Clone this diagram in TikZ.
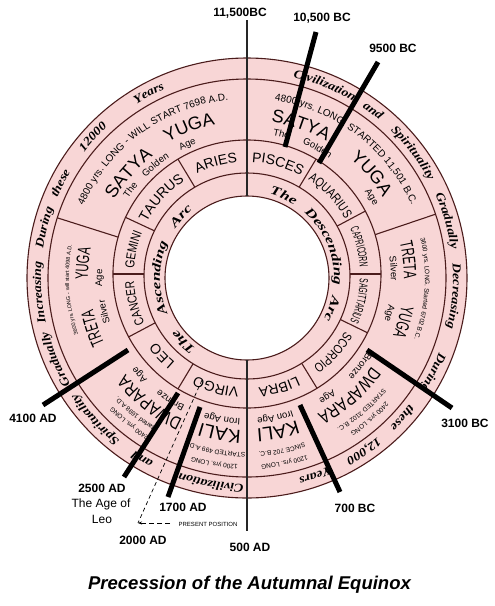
\documentclass[tikz,border=0pt]{standalone}
\usepackage{fontspec}
\usetikzlibrary{decorations.text,arrows.meta}
\setmainfont{Liberation Sans}
\newfontfamily\handR{Liberation Sans}
\newfontfamily\handN{Liberation Sans}[FakeStretch=0.8]
\newfontfamily\handT{Liberation Sans}[FakeStretch=0.62]
\newfontfamily\handX{Liberation Sans}[FakeStretch=0.55]
\newfontfamily\scrO{Liberation Serif}[FakeStretch=1.15]
\newfontfamily\scrA{Liberation Serif}[FakeStretch=1.35]
\definecolor{ringpink}{RGB}{248,214,214}
\definecolor{ringbrown}{RGB}{75,28,28}
\newcommand\rgO{\scrO\bfseries\itshape\fontsize{12}{12}\selectfont}
\newcommand\rgA{\scrA\bfseries\itshape\fontsize{12.5}{12.5}\selectfont}
\newcommand\rgZ{\handR\fontsize{14}{14}\selectfont}
\newcommand\rgZn{\handN\fontsize{13}{13}\selectfont}
\newcommand\rgZt{\handX\fontsize{12}{12}\selectfont}
\newcommand\rgB{\handR\fontsize{18}{18}\selectfont}
\newcommand\rgBn{\handN\fontsize{18}{18}\selectfont}
\newcommand\rgBt{\handT\fontsize{18}{18}\selectfont}
\newcommand\rgBk{\handR\fontsize{19}{19}\selectfont}
\newcommand\rgL{\handR\fontsize{10}{10}\selectfont}
\newcommand\rgs{\handR\fontsize{9.5}{9.5}\selectfont}
\newcommand\rgK{\handR\fontsize{6.5}{6.5}\selectfont}
\newcommand\rgT{\handR\fontsize{5.5}{5.5}\selectfont}
\newcommand\atext[4]{\path[shift={(247,-278)},decorate,decoration={text along path,text align=center,text={|#3|#4}}] ({#2+40}:#1) arc[start angle={#2+40},end angle={#2-40},radius=#1];}
\newcommand\ztext[3]{\path[shift={(247,-275)},decorate,decoration={text along path,text align=center,text={|#2|#3}}] ({#1+40}:113) arc[start angle={#1+40},end angle={#1-40},radius=113];}
\tikzset{
  ringstroke/.style={draw=ringbrown,line width=1.1pt},
  vline/.style={draw=black!85,line width=1.5pt},
  bigline/.style={draw=black,line width=5pt},
  lab/.style={font=\bfseries\fontsize{12}{12}\selectfont,inner sep=0.5pt},
  labn/.style={font=\fontsize{12}{12}\selectfont,inner sep=0.5pt},
}
\begin{document}
\begin{tikzpicture}[x=1pt,y=1pt]
\useasboundingbox (0,0) rectangle (495,-606);
\fill[white] (0,0) rectangle (495,-606);
\coordinate (C) at (247,-278);
\coordinate (Z3) at (247,-274);
\coordinate (Z4) at (247,-276);
% rings
\fill[ringpink] (C) circle[radius=220];
\begin{scope}
  \clip (C) circle[radius=199];
  \foreach \a in {162.4,18.7} \draw[ringstroke,shift={(247,-278)}] (\a:120) -- (\a:205);
\end{scope}
\fill[ringpink] (Z3) circle[radius=134];
\begin{scope}
  \clip (Z3) circle[radius=134];
  \foreach \a in {121,59,28,0,-26,-58.5,-121,-152,180,155} \draw[ringstroke,shift={(247,-274)}] (\a:92) -- (\a:140);
\end{scope}
\fill[ringpink] (Z4) circle[radius=103];
\fill[white] (C) circle[radius=82];
\draw[ringstroke] (C) circle[radius=220] (C) circle[radius=199] (Z3) circle[radius=134] (Z4) circle[radius=103] (C) circle[radius=82];

% outer ring text
\atext{206}{68}{\rgO}{Civilization}
\atext{206}{53}{\rgO}{and}
\atext{206}{37}{\rgO}{Spirituality}
\atext{206}{16}{\rgO}{Gradually}
\atext{206}{-5}{\rgO}{Decreasing}
\atext{206}{-27}{\rgO}{During}
\atext{206}{-42}{\rgO}{these}
\atext{206}{-56}{\rgO}{12,000}
\atext{206}{-71}{\rgO}{Years}
\atext{206}{-100}{\rgO}{Civilization}
\atext{206}{-120}{\rgO}{and}
\atext{206}{-137}{\rgO}{Spirituality}
\atext{206}{-157}{\rgO}{Gradually}
\atext{206}{-176}{\rgO}{Increasing}
\atext{206}{166}{\rgO}{During}
\atext{206}{153}{\rgO}{these}
\atext{206}{137.5}{\rgO}{12000}
\atext{206}{118}{\rgO}{Years}

% yuga ring: Satya (left)
\atext{179}{126}{\rgL}{4800 yrs. LONG - WILL START 7698 A.D.}
\atext{154}{138.5}{\rgB}{SATYA}
\atext{157}{111}{\rgB}{YUGA}
\atext{143}{143}{\rgs}{The}
\atext{143}{129}{\rgs}{Golden}
\atext{144}{114}{\rgs}{Age}
% Satya (right)
\atext{180}{52.5}{\rgL}{4800 yrs. LONG. STARTED 11,501 B.C.}
\atext{158}{70.5}{\rgB}{SATYA}
\atext{158}{40}{\rgB}{YUGA}
\atext{145}{76.5}{\rgs}{The}
\atext{145}{61.5}{\rgs}{Golden}
\atext{146}{33}{\rgs}{Age}
% Treta (left)
\atext{178}{184}{\rgT}{3600 yrs. LONG - will start 4098 A.D.}
\atext{157}{198}{\rgBt}{TRETA}
\atext{159}{175}{\rgBt}{YUGA}
\atext{144}{193.4}{\rgs}{Silver}
\atext{145}{180}{\rgs}{Age}
% Treta (right)
\atext{178}{-3.5}{\rgK}{3600 yrs. LONG. Started 6702 B.C.}
\atext{157}{6.4}{\rgBt}{TRETA}
\atext{157}{-15.8}{\rgBt}{YUGA}
\atext{144}{3.7}{\rgs}{Silver}
\atext{144}{-13.8}{\rgs}{Age}
% Dwapara (right)
\atext{186}{-49}{\rgK}{2400 yrs. LONG}
\atext{175}{-49}{\rgK}{STARTED 3102 B.C.}
\atext{153}{-49}{\rgBn}{DWAPARA}
\atext{141}{-38}{\rgs}{Bronze}
\atext{141}{-56}{\rgs}{Age}
% Kali (right)
\atext{187}{-78.5}{\rgK}{1200 yrs. LONG}
\atext{174.5}{-78.5}{\rgK}{SINCE 702 B.C.}
\atext{151}{-78.5}{\rgBk}{KALI}
\atext{140}{-78.5}{\rgs}{Iron Age}
% Kali (left)
\atext{187}{-100}{\rgK}{1200 yrs. LONG}
\atext{174.5}{-100}{\rgK}{STARTED 499 A.D.}
\atext{152}{-100}{\rgBk}{KALI}
\atext{141}{-100}{\rgs}{Iron Age}
% Dwapara (left)
\atext{186}{-129}{\rgK}{2400 yrs. LONG}
\atext{175}{-129}{\rgK}{Started 1698 A.D.}
\atext{155}{-128}{\rgBn}{DWAPARA}
\atext{142}{-122}{\rgs}{Bronze}
\atext{142}{-138}{\rgs}{Age}

% zodiac ring
\ztext{105.5}{\rgZ}{ARIES}
\ztext{74.5}{\rgZ}{PISCES}
\ztext{43.5}{\rgZn}{AQUARIUS}
\ztext{14}{\rgZt}{CAPRICORN}
\ztext{-13}{\rgZt}{SAGITTARIUS}
\ztext{-42}{\rgZn}{SCORPIO}
\ztext{-74}{\rgZ}{LIBRA}
\ztext{-105.5}{\rgZ}{VIRGO}
\ztext{-136.5}{\rgZ}{LEO}
\ztext{-166}{\rgZn}{CANCER}
\ztext{167.5}{\rgZn}{GEMINI}
\ztext{138}{\rgZ}{TAURUS}

% arc ring
\atext{87}{66}{\rgA}{The}
\atext{87}{22}{\rgA}{Descending}
\atext{87}{-20}{\rgA}{Arc}
\atext{87}{-135}{\rgA}{The}
\atext{87}{180}{\rgA}{Ascending}
\atext{87}{137}{\rgA}{Arc}

% vertical axis
\coordinate (vstart) at (247,-20);
\coordinate (vtop) at (247,-196);
\coordinate (vbot) at (247,-360);
\coordinate (vend) at (247,-531);
\draw[vline] (vstart) -- (vtop);
\draw[vline] (vbot) -- (vend);

% thick date lines
\coordinate (a10500) at (285,-147); \coordinate (b10500) at (316,-32);
\coordinate (a9500) at (319,-163);  \coordinate (b9500) at (378,-62);
\coordinate (a3100) at (367,-350);  \coordinate (b3100) at (452,-408);
\coordinate (a700) at (300,-405);   \coordinate (b700) at (340,-492);
\coordinate (a1700) at (200,-407);  \coordinate (b1700) at (168,-497);
\coordinate (a2500) at (178,-393);  \coordinate (b2500) at (124,-477);
\coordinate (a4100) at (128,-350);  \coordinate (b4100) at (43,-405);
\foreach \n in {10500,9500,3100,700,1700,2500,4100} \draw[bigline] (a\n) -- (b\n);

% present position
\coordinate (p2000a) at (202,-380);
\coordinate (p2000b) at (138,-523);
\coordinate (ppos) at (170,-523);
\draw[black,line width=0.7pt,dash pattern=on 4pt off 3pt] (p2000a) -- (p2000b);
\draw[black,line width=0.6pt,dash pattern=on 5pt off 3pt,-{Stealth[length=4pt,width=3pt]}] (ppos) -- (p2000b);
\node[font=\fontsize{6}{6}\selectfont,inner sep=0.5pt] (present) at (208,-524.5) {PRESENT POSITION};

% labels
\node[lab] (l11500) at (240,-13) {11,500BC};
\node[lab] (l10500) at (322,-18) {10,500 BC};
\node[lab] (l9500) at (393,-48) {9500 BC};
\node[lab] (l3100) at (465,-423) {3100 BC};
\node[lab] (l700) at (355,-508) {700 BC};
\node[lab] (l500) at (250,-547) {500 AD};
\node[lab] (l2000) at (143,-540) {2000 AD};
\node[lab] (l2500) at (102,-488) {2500 AD};
\node[labn] (lage) at (101,-504) {The Age of};
\node[labn] (lleo) at (102,-519) {Leo};
\node[lab] (l1700) at (183,-507) {1700 AD};
\node[lab] (l4100) at (33,-418) {4100 AD};
\node[font=\bfseries\itshape\fontsize{18.5}{18.5}\selectfont,inner sep=0pt] (title) at (249.5,-585) {Precession of the Autumnal Equinox};
\end{tikzpicture}
\end{document}
